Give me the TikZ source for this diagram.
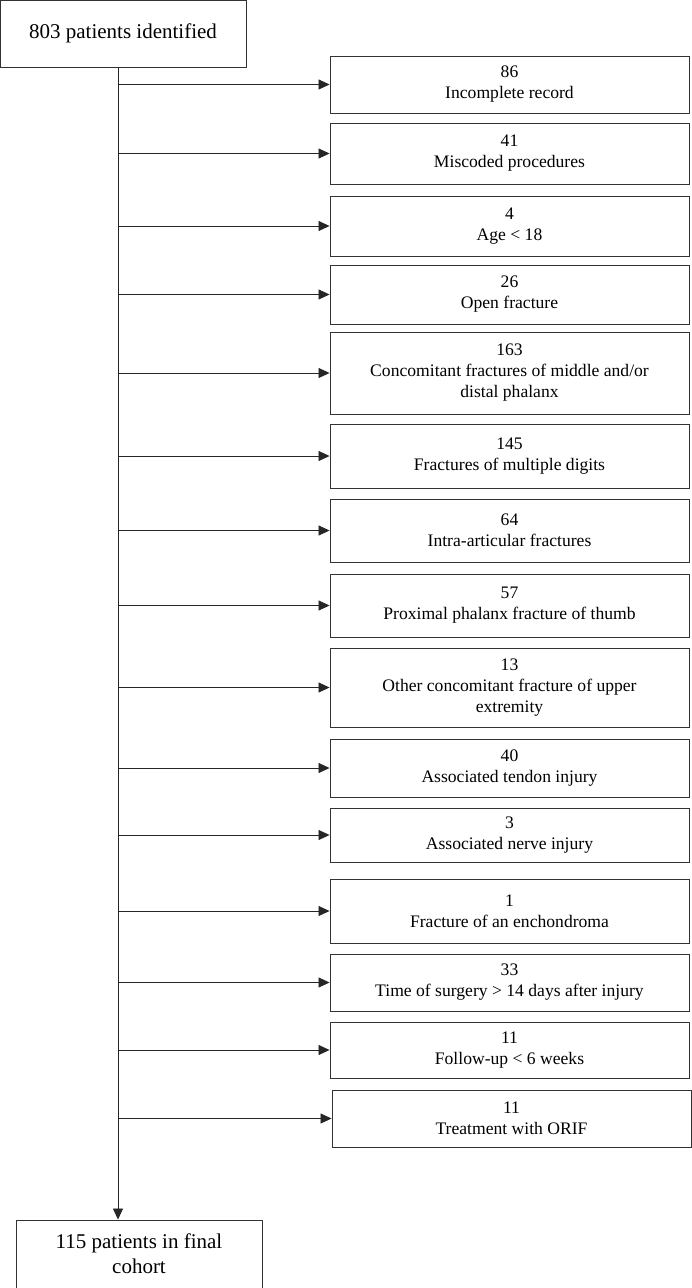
\documentclass[tikz,border=0pt]{standalone}
\usepackage{fontspec}
\setmainfont{Liberation Serif}
\usetikzlibrary{arrows.meta, positioning}
\tikzstyle{block} = [draw=black!80, line width=0.9pt, rectangle, align=center, inner sep=2pt]
\tikzstyle{main} = [block, minimum width=246pt, font=\fontsize{21}{25}\selectfont]
\tikzstyle{excl} = [block, minimum width=359pt, font=\fontsize{17.6}{21}\selectfont]
\tikzstyle{path} = [-{Triangle[length=11pt, width=10pt]}, line width=0.8pt, draw=black!85, fill=black!85]

\begin{document}
\begin{tikzpicture}[x=1pt, y=-1pt]
    \useasboundingbox (0,0) rectangle (692,1288);
    \node (identified) [main, minimum height=67pt] at (123,33.5) {803 patients identified};
    \node (final) [main, minimum height=68pt] at (139,1254) {115 patients in final\\cohort};
    \coordinate (trunk) at (118,0);

    \foreach \i/\x/\y/\h/\t in {%
        1/509.5/84.5/57/{86\\Incomplete record},
        2/509.5/153.5/61/{41\\Miscoded procedures},
        3/509.5/226/60/{4\\Age < 18},
        4/509.5/294.5/59/{26\\Open fracture},
        5/509.5/373/82/{163\\Concomitant fractures of middle and/or\\distal phalanx},
        6/509.5/456/64/{145\\Fractures of multiple digits},
        7/509.5/530.5/63/{64\\Intra-articular fractures},
        8/509.5/605.5/63/{57\\Proximal phalanx fracture of thumb},
        9/509.5/687.5/79/{13\\Other concomitant fracture of upper\\extremity},
        10/509.5/768/58/{40\\Associated tendon injury},
        11/509.5/835/54/{3\\Associated nerve injury},
        12/509.5/911/64/{1\\Fracture of an enchondroma},
        13/509.5/982.5/57/{33\\Time of surgery > 14 days after injury},
        14/509.5/1050/56/{11\\Follow-up < 6 weeks},
        15/511.5/1118.5/57/{11\\Treatment with ORIF}} {%
        \node (excl \i) [excl, minimum height=\h pt] at (\x,\y) {\t};
        \draw [path] (trunk |- excl \i.west) -- (excl \i.west);
    }

    % Main flow.
    \draw [path] (trunk |- identified.south) -- (trunk |- final.north);
\end{tikzpicture}
\end{document}
